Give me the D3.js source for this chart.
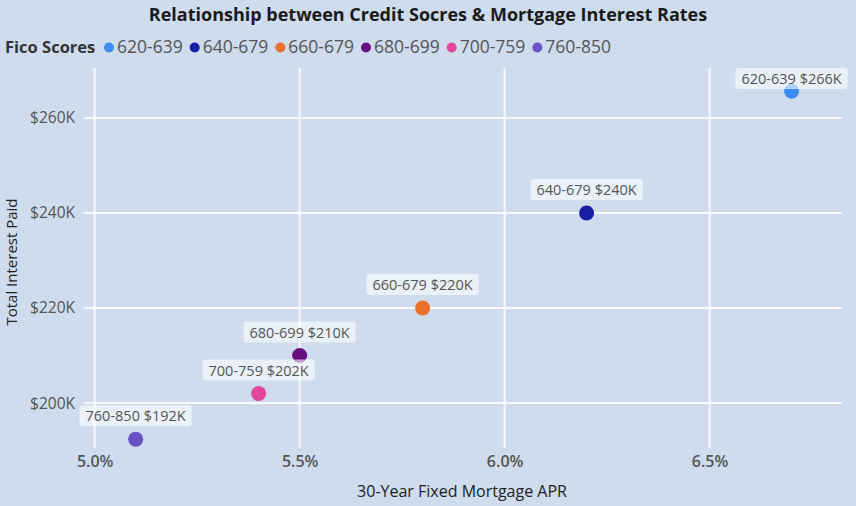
<!DOCTYPE html>
<html>
<head>
<meta charset="utf-8">
<script src="https://cdn.jsdelivr.net/npm/d3@7"></script>
<style>
  body { margin: 0; background: #cedcee; }
  svg { display: block; font-family: "Segoe UI", "Open Sans", sans-serif; }
</style>
</head>
<body>
<div id="chart"></div>
<script>
// data
const scoreBands = ['620-639', '640-679', '660-679', '680-699', '700-759', '760-850'];
const aprValues = [6.7, 6.2, 5.8, 5.5, 5.4, 5.1];
const interestPaid = [265.6, 240, 220, 210, 202, 192.4];   // $K
const interestLabels = ['$266K', '$240K', '$220K', '$210K', '$202K', '$192K'];
const bandColors = ['#3d8bf2', '#1b1ca6', '#e8722c', '#680f7e', '#e2479c', '#6a52c6'];
const xTicks = [5.0, 5.5, 6.0, 6.5];
const yTicks = [200, 220, 240, 260];

const width = 856, height = 506;
const margin = {top: 68, right: 14, bottom: 54, left: 84};

const svg = d3.select('#chart').append('svg')
    .attr('width', width)
    .attr('height', height);

// background
svg.append('rect')
    .attr('width', width).attr('height', height)
    .attr('fill', '#cedcee');

const x = d3.scaleLinear()
    .domain([4.974, 6.823])
    .range([margin.left, width - margin.right]);

const y = d3.scaleLinear()
    .domain([189.7, 270.5])
    .range([height - margin.bottom, margin.top]);

// title
svg.append('text')
    .attr('x', 428).attr('y', 21)
    .attr('text-anchor', 'middle')
    .attr('font-size', 18).attr('font-weight', 'bold')
    .attr('fill', '#1a1a1a')
    .text('Relationship between Credit Socres & Mortgage Interest Rates');

// legend
const legend = svg.append('g').attr('transform', 'translate(5, 53)');
legend.append('text')
    .attr('font-size', 16.5).attr('font-weight', 'bold')
    .attr('fill', '#333')
    .text('Fico Scores');

let lx = 109;
scoreBands.forEach((band, i) => {
    legend.append('circle')
        .attr('cx', lx - 5).attr('cy', -5.5).attr('r', 5)
        .attr('fill', bandColors[i]);
    let t = legend.append('text')
        .attr('x', lx + 3)
        .attr('font-size', 17.5)
        .attr('fill', '#555')
        .text(band);
    lx += 3 + t.node().getComputedTextLength() + 17;
});

// grid
const grid = svg.append('g');
grid.selectAll('.hgrid').data(yTicks).enter().append('line')
    .attr('x1', margin.left).attr('x2', width - margin.right)
    .attr('y1', d => y(d)).attr('y2', d => y(d))
    .attr('stroke', '#ffffff').attr('stroke-width', 2).attr('opacity', 0.85);
grid.selectAll('.vgrid').data(xTicks).enter().append('line')
    .attr('x1', d => x(d)).attr('x2', d => x(d))
    .attr('y1', margin.top).attr('y2', height - margin.bottom - 4)
    .attr('stroke', '#ffffff').attr('stroke-width', 2).attr('opacity', 0.85);

// axes
const xAxis = svg.append('g')
    .attr('transform', `translate(0, ${height - margin.bottom + 1})`)
    .call(d3.axisBottom(x).tickValues(xTicks).tickSize(0).tickFormat(d => d3.format('.1f')(d) + '%'));
xAxis.select('.domain').remove();
xAxis.selectAll('text')
    .attr('font-size', 16).attr('font-weight', 600)
    .attr('fill', '#555').attr('font-family', '"Segoe UI", "Open Sans", sans-serif');

const yAxis = svg.append('g')
    .attr('transform', `translate(${margin.left - 6}, 0)`)
    .call(d3.axisLeft(y).tickValues(yTicks).tickSize(0).tickFormat(d => '$' + d + 'K'));
yAxis.select('.domain').remove();
yAxis.selectAll('text')
    .attr('font-size', 15.5)
    .attr('fill', '#555').attr('font-family', '"Segoe UI", "Open Sans", sans-serif');

// axis titles
svg.append('text')
    .attr('x', 462).attr('y', 497)
    .attr('text-anchor', 'middle')
    .attr('font-size', 16).attr('fill', '#222')
    .text('30-Year Fixed Mortgage APR');

svg.append('text')
    .attr('transform', 'translate(17, 262) rotate(-90)')
    .attr('text-anchor', 'middle')
    .attr('font-size', 15).attr('fill', '#222')
    .text('Total Interest Paid');

// points
const pts = scoreBands.map((band, i) => ({band, apr: aprValues[i], paid: interestPaid[i], label: interestLabels[i], color: bandColors[i]}));

svg.selectAll('.dot').data(pts).enter().append('circle')
    .attr('class', 'dot')
    .attr('cx', d => x(d.apr)).attr('cy', d => y(d.paid))
    .attr('r', 7.5)
    .attr('fill', d => d.color);

// data labels
const labels = svg.selectAll('.lbl').data(pts).enter().append('g').attr('class', 'lbl');
labels.each(function (d) {
    let g = d3.select(this);
    let rect = g.append('rect');
    let t = g.append('text')
        .attr('text-anchor', 'middle')
        .attr('font-size', 14.5).attr('fill', '#555')
        .text(d.band + ' ' + d.label);
    let w = t.node().getComputedTextLength() + 12;
    let h = 21;
    let cx = x(d.apr);
    let bottom = Math.max(y(d.paid) - 13, margin.top + h);
    rect.attr('x', cx - w / 2).attr('y', bottom - h)
        .attr('width', w).attr('height', h).attr('rx', 3)
        .attr('fill', '#ffffff').attr('opacity', 0.6);
    t.attr('x', cx).attr('y', bottom - 5);
});
</script>
</body>
</html>
